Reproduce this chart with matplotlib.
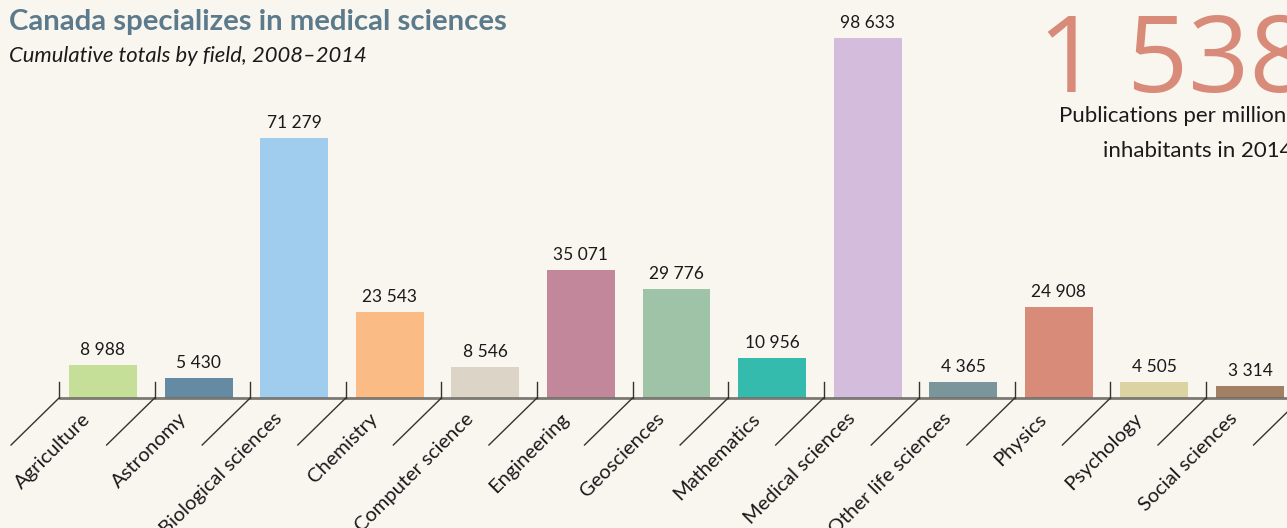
import matplotlib
matplotlib.use("Agg")
import matplotlib.pyplot as plt

fields = ["Agriculture", "Astronomy", "Biological sciences", "Chemistry", "Computer science",
          "Engineering", "Geosciences", "Mathematics", "Medical sciences", "Other life sciences",
          "Physics", "Psychology", "Social sciences"]
values = [8988, 5430, 71279, 23543, 8546, 35071, 29776, 10956, 98633, 4365, 24908, 4505, 3314]
value_labels = ["8 988", "5 430", "71 279", "23 543", "8 546", "35 071", "29 776", "10 956",
                "98 633", "4 365", "24 908", "4 505", "3 314"]
colors = ["#c5df98", "#658ba4", "#a0cdee", "#fbbb85", "#dcd4c6", "#c3879c", "#9ec3a6",
          "#35bbad", "#d3bcdc", "#7a969a", "#d98b7a", "#dbd3a2", "#a18063"]

BG = "#f9f6f0"
plt.rcParams['font.family'] = ['Lato', 'DejaVu Sans']

W, H = 1287, 528
fig = plt.figure(figsize=(W / 100, H / 100), dpi=100, facecolor=BG)
ax = fig.add_axes([0, 0, 1, 1])
ax.set_facecolor(BG)
ax.axis('off')

# pixel geometry -> data limits
x0_px, step_px = 103.0, 95.58
base_px, unit_px = 398.0, 360.0 / 98633  # px per value unit
xmin, xmax = -x0_px / step_px, (W - x0_px) / step_px
ax.set_xlim(xmin, xmax)
ax.set_ylim(-(H - base_px) / unit_px, base_px / unit_px)
px_x = 1.0 / step_px
px_y = 1.0 / unit_px

n = len(fields)
xs = list(range(n))
ax.bar(xs, values, width=0.71, color=colors, zorder=2)
ax.plot([-0.46, xmax], [0, 0], color="#6f6c68", lw=2, zorder=3, alpha=0.9,
        solid_capstyle='butt')

for i in range(n + 1):
    tx = i - 0.46
    ax.plot([tx, tx], [0, 16 * px_y], color="#333333", lw=1, zorder=3)
    ax.plot([tx, tx - 48 * px_x], [0, -47 * px_y], color="#333333", lw=1, zorder=3)

for i, (v, lab) in enumerate(zip(values, value_labels)):
    ax.text(i, v + 7 * px_y, lab, ha='center', va='bottom', fontsize=12.5, color="#1a1a1a")

for i, f in enumerate(fields):
    ax.text(i - 15 * px_x, -18 * px_y, f, rotation=45, rotation_mode='anchor',
            ha='right', va='center', fontsize=14.5, color="#1a1a1a")

fig.text(9 / W, 1 - 22 / H, "Canada specializes in medical sciences", fontsize=21.2,
         fontweight='bold', color="#5b7b8c", ha='left', va='center')
fig.text(9 / W, 1 - 56 / H, "Cumulative totals by field, 2008–2014", fontsize=15.8,
         fontstyle='italic', color="#1a1a1a", ha='left', va='center')

fig.text(1038 / W, 1 - 92 / H, "1 538", fontsize=77, family=['Open Sans', 'DejaVu Sans'],
         color="#d98b7a", ha='left', va='baseline')
fig.text(1059 / W, 1 - 116 / H, "Publications per million", fontsize=16,
         color="#1a1a1a", ha='left', va='center')
fig.text(1103 / W, 1 - 151 / H, "inhabitants in 2014", fontsize=16,
         color="#1a1a1a", ha='left', va='center')

fig.savefig("out.png", dpi=100, facecolor=BG)
